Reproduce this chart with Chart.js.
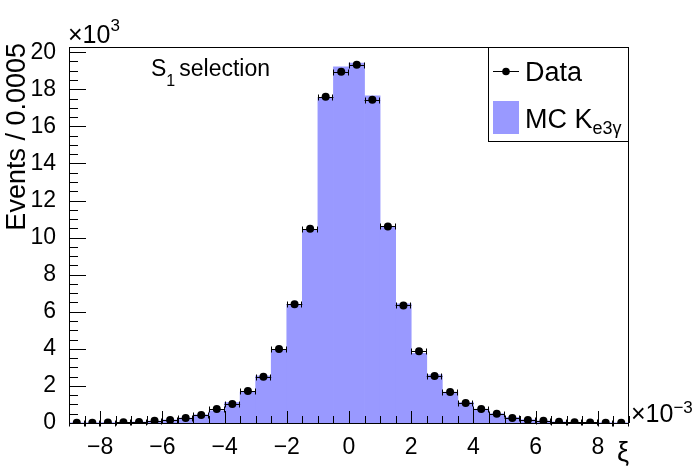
<!DOCTYPE html>
<html>
<head>
<meta charset="utf-8">
<script src="https://cdn.jsdelivr.net/npm/chart.js@4.4.1/dist/chart.umd.min.js"></script>
<style>
  html, body { margin: 0; padding: 0; background: #fff; }
  #wrap { width: 698px; height: 471px; }
</style>
</head>
<body>
<div id="wrap"><canvas id="xiChart" width="698" height="471"></canvas></div>
<script>
// xi bin centres, in units of 1e-3 (bins are 0.5e-3 wide)
const binCenters = [
  -8.75, -8.25, -7.75, -7.25, -6.75, -6.25, -5.75, -5.25, -4.75, -4.25, -3.75, -3.25,
  -2.75, -2.25, -1.75, -1.25, -0.75, -0.25, 0.25, 0.75, 1.25, 1.75, 2.25, 2.75,
  3.25, 3.75, 4.25, 4.75, 5.25, 5.75, 6.25, 6.75, 7.25, 7.75, 8.25, 8.75
];

// measured events per bin
const dataEvents = [
  15, 20, 25, 35, 55, 120, 160, 270, 430, 750, 1020, 1720,
  2490, 3990, 6410, 10480, 17600, 18940, 19320, 17440, 10600, 6340, 3870, 2540,
  1670, 1075, 750, 500, 270, 160, 120, 70, 40, 30, 20, 15
];

// simulated Ke3gamma events per bin
const mcEvents = [
  10, 15, 20, 30, 55, 105, 165, 270, 445, 660, 1105, 1670,
  2540, 3940, 6400, 10420, 17530, 19210, 19410, 17650, 10550, 6430, 3760, 2600,
  1670, 1105, 750, 500, 300, 175, 110, 60, 35, 25, 15, 10
];

const binHalfWidth = 0.25;
const xTickValues = [-8, -6, -4, -2, 0, 2, 4, 6, 8];
const yTickValues = [0, 2000, 4000, 6000, 8000, 10000, 12000, 14000, 16000, 18000, 20000];

const FONT = "'Liberation Sans', Arial, Helvetica, sans-serif";
const mcColor = "#9999ff";

// ROOT look: ticks inside the frame, error bars, legend box and labels
const rootStyle = {
  id: "rootStyle",
  beforeDatasetDraw(chart, args) {
    if (args.index !== 1) return;
    const { ctx, scales: { x, y } } = chart;
    ctx.save();
    ctx.strokeStyle = "#000";
    ctx.lineWidth = 1;
    binCenters.forEach((c, i) => {
      const x0 = x.getPixelForValue(c - binHalfWidth);
      const x1 = x.getPixelForValue(c + binHalfWidth);
      const py = Math.round(y.getPixelForValue(dataEvents[i])) + 0.5;
      ctx.beginPath();
      ctx.moveTo(x0, py);
      ctx.lineTo(x1, py);
      ctx.moveTo(Math.round(x0) + 0.5, py - 3);
      ctx.lineTo(Math.round(x0) + 0.5, py + 3);
      ctx.moveTo(Math.round(x1) - 0.5, py - 3);
      ctx.lineTo(Math.round(x1) - 0.5, py + 3);
      ctx.stroke();
    });
    ctx.restore();
  },
  afterDatasetsDraw(chart) {
    const { ctx, chartArea: a, scales: { x, y } } = chart;
    ctx.save();
    ctx.strokeStyle = "#000";
    ctx.lineWidth = 1;
    ctx.beginPath();
    // x ticks
    for (let v = -9; v <= 9.001; v += 0.5) {
      const px = Math.round(x.getPixelForValue(v)) + 0.5;
      const len = Math.abs(v % 2) < 1e-6 ? 12 : 7;
      ctx.moveTo(px, a.bottom);
      ctx.lineTo(px, a.bottom - len);
    }
    // y ticks
    for (let v = 0; v <= 20000; v += 500) {
      const py = Math.round(y.getPixelForValue(v)) + 0.5;
      const len = v % 2000 === 0 ? 17 : 9;
      ctx.moveTo(a.left, py);
      ctx.lineTo(a.left + len, py);
    }
    ctx.stroke();
    ctx.strokeRect(a.left + 0.5, a.top + 0.5, a.right - a.left - 1, a.bottom - a.top);
    ctx.restore();
  },
  afterDraw(chart) {
    const { ctx, chartArea: a } = chart;
    ctx.save();
    ctx.fillStyle = "#000";
    ctx.textBaseline = "alphabetic";

    // y title
    ctx.save();
    ctx.translate(25, 43);
    ctx.rotate(-Math.PI / 2);
    ctx.textAlign = "right";
    ctx.font = "27px " + FONT;
    ctx.fillText("Events / 0.0005", 0, 0);
    ctx.restore();

    // x title
    ctx.textAlign = "right";
    ctx.font = "27px " + FONT;
    ctx.fillText("\u03BE", a.right, 461);

    // exponents
    ctx.textAlign = "left";
    ctx.font = "25px " + FONT;
    ctx.fillText("\u00D710", 68, 43);
    let w = ctx.measureText("\u00D710").width;
    ctx.font = "17px " + FONT;
    ctx.fillText("3", 68 + w, 31);

    ctx.font = "25px " + FONT;
    ctx.fillText("\u00D710", 631, 422);
    w = ctx.measureText("\u00D710").width;
    ctx.font = "17px " + FONT;
    ctx.fillText("\u22123", 631 + w, 413);

    // selection label
    ctx.font = "23px " + FONT;
    ctx.fillText("S", 151, 76);
    w = ctx.measureText("S").width;
    ctx.font = "16px " + FONT;
    ctx.fillText("1", 151 + w, 86);
    const w1 = ctx.measureText("1").width;
    ctx.font = "23px " + FONT;
    ctx.fillText("selection", 151 + w + w1 + 4, 76);

    // legend
    ctx.fillStyle = "#fff";
    ctx.fillRect(488, 47, 140, 94);
    ctx.strokeStyle = "#000";
    ctx.lineWidth = 1;
    ctx.strokeRect(488.5, 47.5, 140, 94);
    ctx.beginPath();
    ctx.moveTo(493, 71.5);
    ctx.lineTo(519, 71.5);
    ctx.stroke();
    ctx.fillStyle = "#000";
    ctx.beginPath();
    ctx.arc(506, 71.5, 3.8, 0, Math.PI * 2);
    ctx.fill();
    ctx.font = "27px " + FONT;
    ctx.fillText("Data", 525, 81);

    ctx.fillStyle = mcColor;
    ctx.fillRect(493, 101, 26, 33);
    ctx.fillStyle = "#000";
    ctx.font = "27px " + FONT;
    ctx.fillText("MC K", 525, 128);
    w = ctx.measureText("MC K").width;
    ctx.font = "18px " + FONT;
    ctx.fillText("e3\u03B3", 525 + w, 134);
    ctx.restore();
  }
};

const ctx = document.getElementById("xiChart").getContext("2d");

new Chart(ctx, {
  type: "bar",
  data: {
    datasets: [
      {
        type: "bar",
        label: "MC Ke3g",
        data: binCenters.map((c, i) => ({ x: c, y: mcEvents[i] })),
        backgroundColor: mcColor,
        borderWidth: 0,
        barPercentage: 1,
        categoryPercentage: 1,
        grouped: false,
        order: 2
      },
      {
        type: "line",
        label: "Data",
        data: binCenters.map((c, i) => ({ x: c, y: dataEvents[i] })),
        showLine: false,
        pointRadius: 4,
        pointBackgroundColor: "#000",
        pointBorderWidth: 0,
        order: 1
      }
    ]
  },
  options: {
    responsive: false,
    animation: false,
    layout: { padding: { top: 47, right: 69, left: 0, bottom: 0 } },
    plugins: {
      legend: { display: false },
      tooltip: { enabled: false }
    },
    scales: {
      x: {
        type: "linear",
        min: -9,
        max: 9,
        offset: false,
        grid: { display: false, offset: false },
        border: { display: false },
        afterBuildTicks: s => { s.ticks = xTickValues.map(v => ({ value: v })); },
        afterFit: s => { s.height = 48; },
        ticks: {
          font: { family: FONT, size: 23 },
          color: "#000",
          padding: 3,
          maxRotation: 0,
          autoSkip: false,
          callback: v => (v < 0 ? "\u2212" + Math.abs(v) : String(v))
        }
      },
      y: {
        type: "linear",
        min: 0,
        max: 20280,
        grid: { display: false },
        border: { display: false },
        afterBuildTicks: s => { s.ticks = yTickValues.map(v => ({ value: v })); },
        afterFit: s => { s.width = 69; },
        ticks: {
          font: { family: FONT, size: 23 },
          color: "#000",
          padding: 5,
          autoSkip: false,
          callback: v => String(v / 1000)
        }
      }
    }
  },
  plugins: [rootStyle]
});
</script>
</body>
</html>
